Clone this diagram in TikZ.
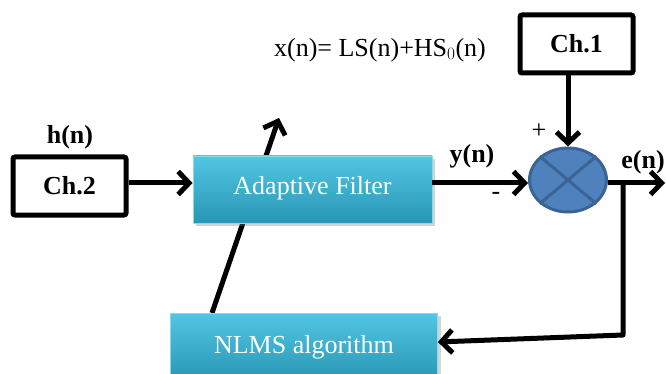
\documentclass[tikz,border=0pt]{standalone}
\usepackage{fontspec}
\setmainfont{Liberation Serif}
\usetikzlibrary{arrows.meta,shapes.geometric,shadows}
\definecolor{cyantop}{HTML}{52C6E3}
\definecolor{cyanbot}{HTML}{2896B4}
\definecolor{cyanedge}{HTML}{86DBF0}
\definecolor{sumfill}{HTML}{4F81BD}
\definecolor{sumedge}{HTML}{3A6494}
\tikzset{
  conn/.style={line width=5pt, -{Straight Barb[length=11pt,width=23pt,line width=5pt]}, line join=round},
  chbox/.style={draw=black, line width=5pt, fill=white, rounded corners=2pt, font=\bfseries\fontsize{26}{28}\selectfont, inner sep=0pt},
  cyanbox/.style={top color=cyantop, bottom color=cyanbot, draw=cyanedge, line width=0.8pt, text=white, font=\fontsize{26}{28}\selectfont, inner sep=0pt, drop shadow={opacity=0.35, shadow xshift=3pt, shadow yshift=-3pt}},
  lbl/.style={font=\fontsize{26}{28}\selectfont, inner sep=0pt},
  blbl/.style={font=\bfseries\fontsize{26}{28}\selectfont, inner sep=0pt},
}
\begin{document}
\begin{tikzpicture}[x=1pt,y=-1pt]
\useasboundingbox (0,0) rectangle (666,374);
% diagonal update line (behind the filter)
\coordinate (d0) at (212,313);
\coordinate (d1) at (279,118);
\draw[conn] (d0) -- (d1);
% boxes
\node[chbox, minimum width=113pt, minimum height=58pt] (ch2) at (69.5,186) {Ch.2};
\node[chbox, minimum width=113pt, minimum height=58pt] (ch1) at (576.5,44) {Ch.1};
\node[cyanbox, minimum width=239pt, minimum height=67pt] (af) at (312.5,189.5) {\raisebox{8pt}{Adaptive Filter}};
\node[cyanbox, minimum width=267pt, minimum height=68pt] (nlms) at (304,347) {NLMS algorithm};
\node[ellipse, fill=sumfill, draw=sumedge, line width=3pt, minimum width=77pt, minimum height=64pt, inner sep=0pt] (sum) at (568,180) {};
\draw[sumedge, line width=3pt] (sum.north west) -- (sum.south east);
\draw[sumedge, line width=3pt] (sum.north east) -- (sum.south west);
% labels
\node[blbl] (hn) at (70,137) {h(n)};
\node[blbl] (yn) at (472,156) {y(n)};
\node[blbl] (en) at (643,162) {e(n)};
\node[lbl] (plus) at (539,131) {+};
\node[lbl] (minus) at (496,196) {-};
\node[lbl] (xn) at (380,50) {x(n)= LS(n)+HS$_0$(n)};
% connectors
\draw[conn] (ch2.east |- 0,183) -- (af.west |- 0,183);
\draw[conn] (af.east |- 0,183) -- (sum.west |- 0,183);
\draw[conn] (sum.north |- ch1.south) -- (sum.north);
\coordinate (eout) at (665,183);
\draw[conn] (sum.east |- 0,183) -- (eout);
\coordinate (fb1) at (623,183);
\coordinate (fb2) at (623,335);
\draw[conn] (fb1) -- (fb2) -- ([yshift=5pt]nlms.east);
\end{tikzpicture}
\end{document}
